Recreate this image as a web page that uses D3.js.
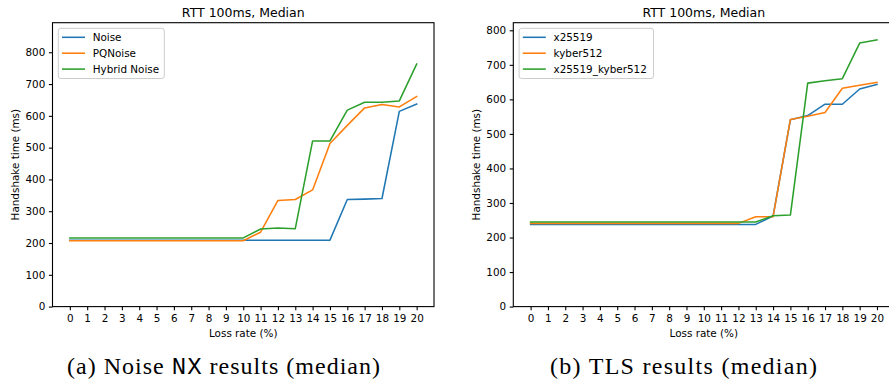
<!DOCTYPE html>
<html>
<head>
<meta charset="utf-8">
<script src="https://cdn.jsdelivr.net/npm/d3@7"></script>
<style>
    body { margin: 0; background: #fff; }
    svg { display: block; }
    text { font-family: "DejaVu Sans", sans-serif; fill: #000; }
</style>
</head>
<body>
<svg id="chart" width="889" height="383"></svg>
<script>
// Loss rate categories (%)
const lossRates = [0, 1, 2, 3, 4, 5, 6, 7, 8, 9, 10, 11, 12, 13, 14, 15, 16, 17, 18, 19, 20];

// Panel (a): Noise NX handshake medians (ms)
const noiseNames = ['Noise', 'PQNoise', 'Hybrid Noise'];
const noiseValues = [209, 209, 209, 209, 209, 209, 209, 209, 209, 209, 209, 209, 209, 209, 209, 209, 337, 338, 340, 614, 637];
const pqNoiseValues = [207, 207, 207, 207, 207, 207, 207, 207, 207, 207, 207, 234, 334, 337, 367, 513, 570, 625, 636, 628, 661];
const hybridNoiseValues = [216, 216, 216, 216, 216, 216, 216, 216, 216, 216, 216, 244, 247, 245, 521, 521, 618, 643, 643, 647, 763];
const noiseYTicks = [0, 100, 200, 300, 400, 500, 600, 700, 800];

// Panel (b): TLS handshake medians (ms)
const tlsNames = ['x25519', 'kyber512', 'x25519_kyber512'];
const x25519Values = [238, 238, 238, 238, 238, 238, 238, 238, 238, 238, 238, 238, 238, 238, 262, 541, 553, 586, 586, 630, 643];
const kyber512Values = [241, 241, 241, 241, 241, 241, 241, 241, 241, 241, 241, 241, 241, 260, 260, 542, 551, 562, 632, 641, 649];
const hybridTlsValues = [245, 245, 245, 245, 245, 245, 245, 245, 245, 245, 245, 245, 245, 245, 263, 265, 647, 654, 660, 763, 772];
const tlsYTicks = [0, 100, 200, 300, 400, 500, 600, 700, 800];

const colours = ['#1f77b4', '#ff7f0e', '#2ca02c'];

const svg = d3.select('#chart');

const panels = [
    {
        box: { left: 52.5, right: 434, top: 22.7, bottom: 306.6 },
        yMax: 893,
        yTicks: noiseYTicks,
        names: noiseNames,
        series: [noiseValues, pqNoiseValues, hybridNoiseValues],
        yLabelX: 19,
        legendWidth: 106,
        caption: [['(a) Noise ', 'serif'], ['NX', 'mono'], [' results (median)', 'serif']],
        captionX: 67, captionWidth: 313,
    },
    {
        box: { left: 513.3, right: 894.3, top: 22.7, bottom: 306.6 },
        yMax: 822,
        yTicks: tlsYTicks,
        names: tlsNames,
        series: [x25519Values, kyber512Values, hybridTlsValues],
        yLabelX: 479.7,
        legendWidth: 134.4,
        caption: [['(b) TLS results (median)', 'serif']],
        captionX: 550, captionWidth: 267,
    },
];

panels.forEach((p) => drawPanel(p));

function drawPanel(p) {
    const b = p.box;
    const g = svg.append('g');

    const x = d3.scaleLinear().domain([-1, 21]).range([b.left, b.right]);
    const y = d3.scaleLinear().domain([0, p.yMax]).range([b.bottom, b.top]);

    // Lines
    const line = d3.line()
        .x((d, i) => x(lossRates[i]))
        .y((d) => y(d));

    g.append('g')
        .selectAll('path')
        .data(p.series)
        .enter()
        .append('path')
        .attr('d', (d) => line(d))
        .style('fill', 'none')
        .style('stroke', (d, i) => colours[i])
        .style('stroke-width', 1.55)
        .style('stroke-linejoin', 'round')
        .style('stroke-linecap', 'square');

    // Spines
    g.append('rect')
        .attr('x', b.left)
        .attr('y', b.top)
        .attr('width', b.right - b.left)
        .attr('height', b.bottom - b.top)
        .style('fill', 'none')
        .style('stroke', '#000')
        .style('stroke-width', 1.1);

    // Axes
    const xAxis = d3.axisBottom(x)
        .tickValues(lossRates)
        .tickSize(3.6)
        .tickPadding(4.2)
        .tickFormat(d3.format('d'));

    const yAxis = d3.axisLeft(y)
        .tickValues(p.yTicks)
        .tickSize(3.6)
        .tickPadding(3.6)
        .tickFormat(d3.format('d'));

    [
        g.append('g').attr('transform', `translate(0, ${b.bottom})`).call(xAxis),
        g.append('g').attr('transform', `translate(${b.left}, 0)`).call(yAxis),
    ].forEach((ax) => {
        ax.select('.domain').remove();
        ax.selectAll('.tick line').style('stroke', '#000').style('stroke-width', 1.1);
        ax.selectAll('.tick text')
            .style('font-family', '"DejaVu Sans", sans-serif')
            .style('font-size', '10.4px')
            .style('fill', '#000');
    });

    // Title and axis labels
    const cx = (b.left + b.right) / 2;
    g.append('text')
        .attr('x', cx)
        .attr('y', 16.7)
        .style('text-anchor', 'middle')
        .style('font-size', '12.5px')
        .text('RTT 100ms, Median');

    g.append('text')
        .attr('x', cx)
        .attr('y', 336.5)
        .style('text-anchor', 'middle')
        .style('font-size', '10.4px')
        .text('Loss rate (%)');

    g.append('text')
        .attr('transform', `translate(${p.yLabelX}, ${(b.top + b.bottom) / 2}) rotate(-90)`)
        .style('text-anchor', 'middle')
        .style('font-size', '10.4px')
        .text('Handshake time (ms)');

    // Legend
    const legend = g.append('g').attr('transform', `translate(${b.left + 5.8}, 28.3)`);
    legend.append('rect')
        .attr('width', p.legendWidth)
        .attr('height', 50.2)
        .attr('rx', 2.5)
        .style('fill', '#fff')
        .style('fill-opacity', 0.8)
        .style('stroke', '#cccccc')
        .style('stroke-width', 1);

    const items = legend.selectAll('g.legend-item')
        .data(p.names)
        .enter()
        .append('g')
        .attr('class', 'legend-item')
        .attr('transform', (d, i) => `translate(0, ${9 + i * 15.9})`);

    items.append('line')
        .attr('x1', 3.7)
        .attr('x2', 26.7)
        .style('stroke', (d, i) => colours[i])
        .style('stroke-width', 1.55);

    items.append('text')
        .attr('x', 34.4)
        .attr('dy', '0.36em')
        .style('font-size', '10.4px')
        .text((d) => d);

    // Caption under the panel
    const caption = svg.append('text')
        .attr('x', p.captionX)
        .attr('y', 374)
        .attr('textLength', p.captionWidth)
        .attr('lengthAdjust', 'spacing')
        .style('font-family', '"Liberation Serif", serif')
        .style('font-size', '24px');

    caption.selectAll('tspan')
        .data(p.caption)
        .enter()
        .append('tspan')
        .style('font-family', (d) => d[1] === 'mono' ? '"Liberation Mono", monospace' : '"Liberation Serif", serif')
        .text((d) => d[0]);
}
</script>
</body>
</html>
